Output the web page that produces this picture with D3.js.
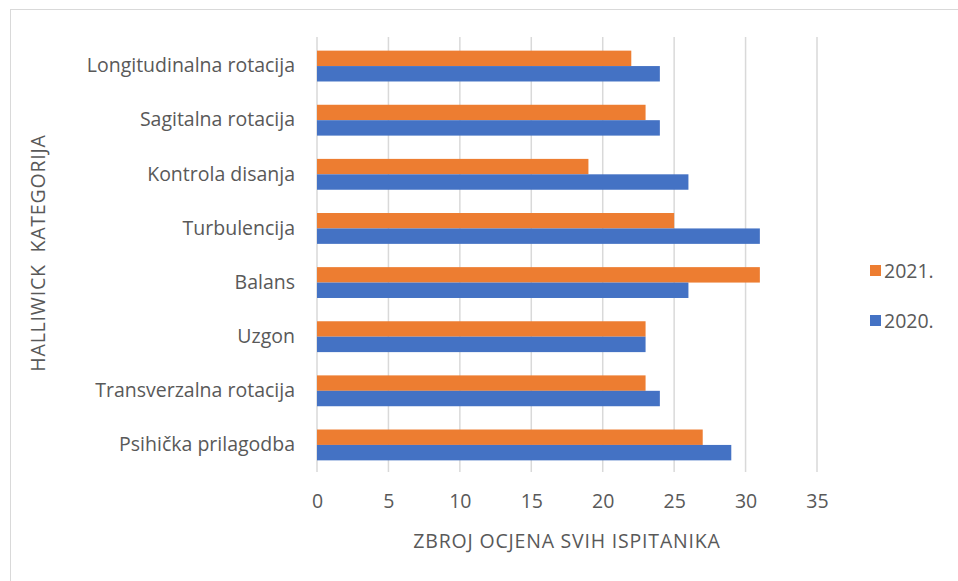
<!DOCTYPE html>
<html>
<head>
<meta charset="utf-8">
<script src="https://cdn.jsdelivr.net/npm/d3@7"></script>
<style>
  body { margin: 0; background: #fff; }
  text { font-family: "Open Sans", Lato, sans-serif; fill: #595959; }
</style>
</head>
<body>
<svg width="958" height="581"></svg>
<script>
const categories = [
  'Longitudinalna rotacija',
  'Sagitalna rotacija',
  'Kontrola disanja',
  'Turbulencija',
  'Balans',
  'Uzgon',
  'Transverzalna rotacija',
  'Psihička prilagodba'
];
const seriesNames = ['2021.', '2020.'];
const values2021 = [22, 23, 19, 25, 31, 23, 23, 27];
const values2020 = [24, 24, 26, 31, 26, 23, 24, 29];
const xTicks = [0, 5, 10, 15, 20, 25, 30, 35];
const colors = ['#ed7d31', '#4472c4'];

const svg = d3.select('svg');
const width = +svg.attr('width');
const height = +svg.attr('height');

// chart frame (right and bottom edges run off the picture)
svg.append('rect')
  .attr('x', 10.5).attr('y', 9.5)
  .attr('width', width - 9).attr('height', height - 8)
  .attr('fill', 'none')
  .attr('stroke', '#d9d9d9');

const margin = { top: 39, left: 317, right: 141, bottom: 109 };
const innerWidth = width - margin.left - margin.right;
const innerHeight = height - margin.top - margin.bottom;

const root = svg.append('g')
  .attr('transform', `translate(${margin.left}, ${margin.top})`);

const xScale = d3.scaleLinear().domain([0, 35]).range([0, innerWidth]);
const yScale = d3.scaleBand().domain(categories).range([0, innerHeight]).paddingInner(0.43).paddingOuter(0.215);
const sub = d3.scaleBand().domain(seriesNames).range([0, yScale.bandwidth()]);

const data = categories.map((c, i) => ({ category: c, values: [values2021[i], values2020[i]] }));

// gridlines
root.append('g')
  .selectAll('line').data(xTicks).enter().append('line')
  .attr('x1', d => xScale(d)).attr('x2', d => xScale(d))
  .attr('y1', -2).attr('y2', innerHeight)
  .attr('stroke', '#d9d9d9').attr('stroke-width', 1.5);

// bars
const groups = root.selectAll('.grp').data(data).enter().append('g')
  .attr('transform', d => `translate(0, ${yScale(d.category)})`);
groups.selectAll('rect').data(d => d.values.map((v, j) => ({ key: seriesNames[j], value: v, j })))
  .enter().append('rect')
  .attr('x', 0)
  .attr('y', d => sub(d.key))
  .attr('width', d => xScale(d.value))
  .attr('height', sub.bandwidth())
  .attr('fill', d => colors[d.j]);

// x tick labels
const xAxis = root.append('g')
  .attr('transform', `translate(0, ${innerHeight})`)
  .call(d3.axisBottom(xScale).tickValues(xTicks).tickSize(0).tickPadding(22));
xAxis.select('.domain').remove();
xAxis.selectAll('text').style('font-size', '19.5px').attr('fill', '#595959');

// y category labels
const yAxis = root.append('g')
  .call(d3.axisLeft(yScale).tickSize(0).tickPadding(22));
yAxis.select('.domain').remove();
yAxis.selectAll('text').style('font-size', '19.5px').attr('fill', '#595959');

// axis titles
svg.append('text')
  .attr('x', 567)
  .attr('y', 548)
  .attr('text-anchor', 'middle')
  .style('font-size', '19.5px')
  .style('letter-spacing', '0.8px')
  .text('ZBROJ OCJENA SVIH ISPITANIKA');

svg.append('text')
  .attr('transform', `translate(45, 253) rotate(-90)`)
  .attr('text-anchor', 'middle')
  .style('font-size', '19.5px')
  .style('letter-spacing', '0.8px')
  .style('white-space', 'pre')
  .text('HALLIWICK  KATEGORIJA');

// legend
const legend = svg.append('g').attr('transform', 'translate(870, 271)');
seriesNames.forEach((s, i) => {
  const row = legend.append('g').attr('transform', `translate(0, ${i * 50})`);
  row.append('rect').attr('x', 0).attr('y', -6).attr('width', 11).attr('height', 11).attr('fill', colors[i]);
  row.append('text').attr('x', 14).attr('y', 0).attr('dy', '0.35em').style('font-size', '19.5px').text(s);
});
</script>
</body>
</html>
